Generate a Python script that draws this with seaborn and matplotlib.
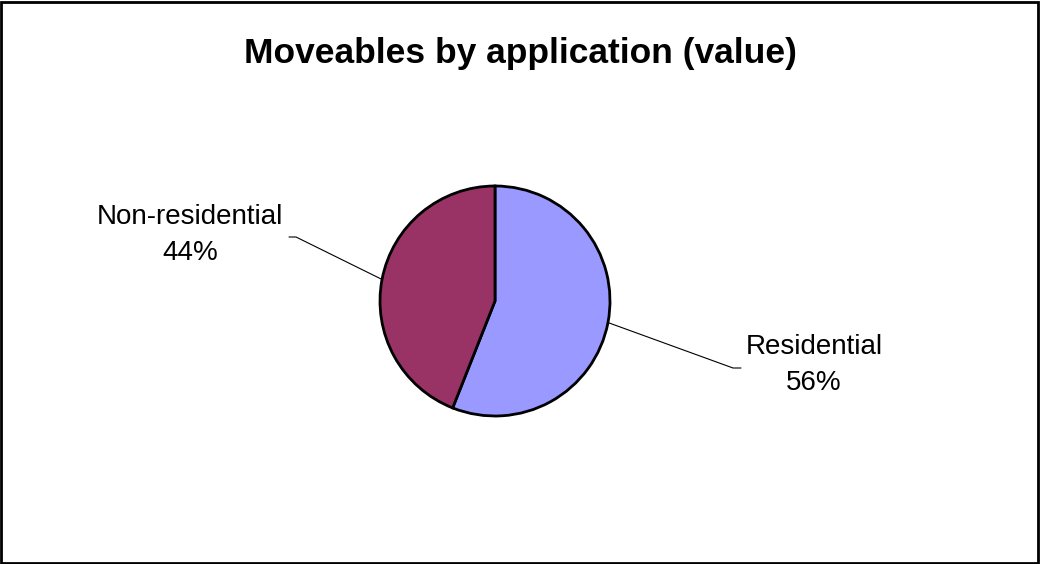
import numpy as np
import matplotlib
matplotlib.use("Agg")
import matplotlib.pyplot as plt
import seaborn as sns
from matplotlib.patches import Rectangle

# ===== Data =====
categories = ["Residential", "Non-residential"]
shares = [56, 44]
slice_colors = ["#9999FF", "#993366"]
title = "Moveables by application (value)"

sns.set_theme(style="white")
plt.rcParams["font.family"] = ["Liberation Sans", "DejaVu Sans"]
plt.rcParams["text.color"] = "black"

W, H = 1040, 564
fig = plt.figure(figsize=(W / 100, H / 100), dpi=100)
ax = fig.add_axes([0, 0, 1, 1])

# pie geometry in pixel units (y up)
cx, cy, r = 495, H - 301, 115
wedges, _ = ax.pie(
    shares, colors=slice_colors, startangle=90, counterclock=False,
    center=(cx, cy), radius=r, frame=True,
    wedgeprops=dict(edgecolor="black", linewidth=2),
)
ax.set_xlim(0, W)
ax.set_ylim(0, H)
ax.set_aspect("equal")
ax.axis("off")

# label anchor (text centre) and leader elbow per slice
label_layout = {
    "Residential": dict(text=(814, H - 365), elbow=(733, H - 368), tail=(741, H - 368)),
    "Non-residential": dict(text=(190, H - 235), elbow=(296, H - 237), tail=(289, H - 237)),
}

for w, name, val in zip(wedges, categories, shares):
    mid = np.deg2rad((w.theta1 + w.theta2) / 2)
    edge = (cx + r * np.cos(mid), cy + r * np.sin(mid))
    lay = label_layout[name]
    ax.plot([edge[0], lay["elbow"][0], lay["tail"][0]],
            [edge[1], lay["elbow"][1], lay["tail"][1]],
            color="black", linewidth=0.8)
    ax.text(lay["text"][0], lay["text"][1], f"{name}\n{val}%",
            ha="center", va="center", fontsize=20, linespacing=1.45,
            color="black")

fig.text(0.5, 1 - 54 / H, title, ha="center", va="center",
         fontsize=25.5, fontweight="bold", color="black")

fig.patches.append(Rectangle((0.001, 0.002), 0.997, 0.995, transform=fig.transFigure,
                             fill=False, edgecolor="black", linewidth=2))

fig.savefig("out.png", dpi=100, facecolor="white")
